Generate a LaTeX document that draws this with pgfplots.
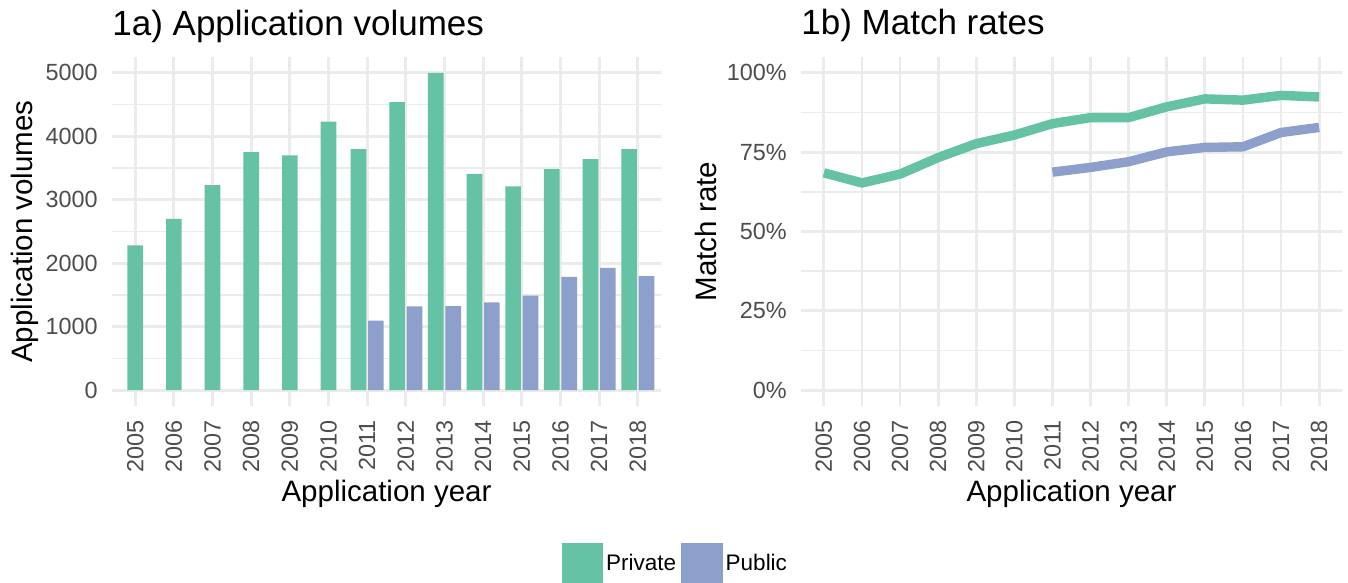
\documentclass[border=0pt]{standalone}
\usepackage{fontspec}
\setmainfont{Liberation Sans}
\usepackage{pgfplots}
\usepackage{pgfplotstable}
\pgfplotsset{compat=1.18}
\definecolor{privgreen}{HTML}{66C2A5}
\definecolor{pubblue}{HTML}{8DA0CB}
\definecolor{gridgray}{HTML}{EBEBEB}
\definecolor{tickgray}{HTML}{4D4D4D}

% Application volumes
\pgfplotstableread{
year private
2005 2280
2006 2700
2007 3230
2008 3750
2009 3700
2010 4230
}\privearly
\pgfplotstableread{
year private
2011 3800
2012 4540
2013 5000
2014 3410
2015 3210
2016 3485
2017 3640
2018 3800
}\privlate
\pgfplotstableread{
year public
2011 1095
2012 1320
2013 1325
2014 1385
2015 1490
2016 1785
2017 1925
2018 1795
}\publicvol
% Match rates (%)
\pgfplotstableread{
year rate
2005 68.5
2006 65.3
2007 68.1
2008 73.3
2009 77.7
2010 80.4
2011 84.0
2012 85.9
2013 85.9
2014 89.3
2015 91.8
2016 91.4
2017 92.9
2018 92.4
}\privrate
\pgfplotstableread{
year rate
2011 68.7
2012 70.2
2013 72.0
2014 75.1
2015 76.5
2016 76.7
2017 81.2
2018 82.8
}\pubrate

\pgfplotsset{
  panel/.style={
    scale only axis,
    height=174.5pt,
    xmin=2004.4, xmax=2018.6,
    xtick={2005,2006,...,2018},
    /pgf/number format/.cd, 1000 sep={}, assume math mode=true, /pgfplots/.cd,
    axis line style={draw=none},
    major tick length=0pt, minor tick length=0pt,
    xmajorgrids, ymajorgrids, yminorgrids,
    major grid style={color=gridgray, line width=1.43pt},
    minor grid style={color=gridgray, line width=0.72pt},
    tick label style={font=\fontsize{11.7}{14}\selectfont, text=tickgray, inner sep=0pt},
    xticklabel style={rotate=90, anchor=east},
    yticklabel style={anchor=east},
    xticklabel shift=7pt,
    yticklabel shift=7pt,
    label style={font=\fontsize{14.75}{17}\selectfont, inner sep=0pt},
    xlabel style={at={(axis description cs:0.5,-0.275)}, anchor=base},
    every axis title/.style={at={(axis description cs:0,1)}, anchor=base west, yshift=11pt,
      font=\fontsize{17.5}{21}\selectfont, inner sep=0pt},
  }
}

\begin{document}
\begin{tikzpicture}
\useasboundingbox (0,0) rectangle (674pt,291.5pt);

\begin{axis}[panel,
  at={(56pt,88.5pt)}, anchor=south west,
  width=274.5pt,
  ymin=-250, ymax=5250,
  ytick={0,1000,2000,3000,4000,5000},
  minor ytick={500,1500,2500,3500,4500},
  title={1a) Application volumes},
  xlabel={Application year},
  ylabel={Application volumes},
  ylabel style={at={(axis description cs:-0.1457,0.5)}, anchor=base, rotate=0},
  legend style={at={(axis description cs:1.0243,-0.452)}, anchor=center,
    draw=none, fill=none, inner sep=0pt, outer sep=0pt,
    nodes={inner sep=0pt, text=black},
    legend columns=2,
    /tikz/every odd column/.style={column sep=1.5pt},
    /tikz/every even column/.style={column sep=2.5pt},
    font=\fontsize{11.25}{13}\selectfont},
  legend image code/.code={\fill[#1] (0pt,-10.25pt) rectangle (20.75pt,10.25pt);},
]
\addlegendimage{fill=privgreen, draw=none}
\addlegendentry{Private}
\addlegendimage{fill=pubblue, draw=none}
\addlegendentry{Public}
\addplot[ybar, bar width=0.405, bar shift=0pt, fill=privgreen, draw=none]
  table[x=year, y=private] {\privearly};
\addplot[ybar, bar width=0.405, bar shift=0pt, fill=privgreen, draw=none]
  table[x expr=\thisrow{year}-0.225, y=private] {\privlate};
\addplot[ybar, bar width=0.405, bar shift=0pt, fill=pubblue, draw=none]
  table[x expr=\thisrow{year}+0.225, y=public] {\publicvol};
\end{axis}

\begin{axis}[panel,
  at={(400.5pt,88.5pt)}, anchor=south west,
  width=270.5pt,
  ymin=-5, ymax=105,
  ytick={0,25,50,75,100},
  yticklabels={0\%,25\%,50\%,75\%,100\%},
  minor ytick={12.5,37.5,62.5,87.5},
  title={1b) Match rates},
  xlabel={Application year},
  ylabel={Match rate},
  ylabel style={at={(axis description cs:-0.157,0.5)}, anchor=base, rotate=0},
]
\addplot[privgreen, line width=4.7pt, line cap=butt, line join=round]
  table[x=year, y=rate] {\privrate};
\addplot[pubblue, line width=4.7pt, line cap=butt, line join=round]
  table[x=year, y=rate] {\pubrate};
\end{axis}
\end{tikzpicture}
\end{document}
